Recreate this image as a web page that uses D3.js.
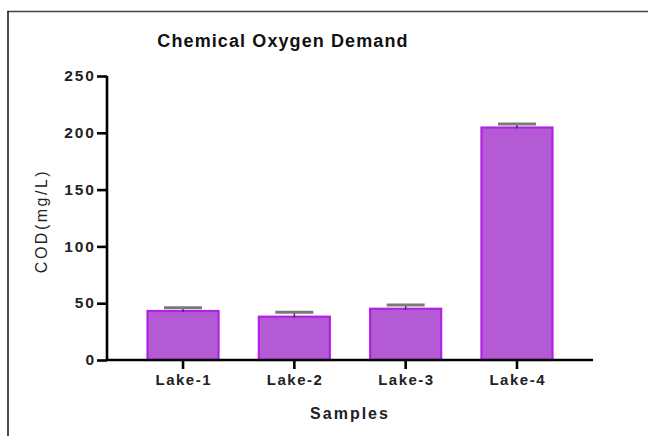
<!DOCTYPE html>
<html><head><meta charset="utf-8">
<script src="https://cdn.jsdelivr.net/npm/d3@7"></script>
<style>body{margin:0;background:#fff}svg{display:block}</style>
</head><body>
<svg id="c" width="648" height="436"></svg>
<script>
const categories = ["Lake-1","Lake-2","Lake-3","Lake-4"];
const values = [44, 39, 46, 205.5];
const errors = [2, 3, 2.4, 2.2];
const yTicks = [0,50,100,150,200,250];

const svg = d3.select("#c");
const font = "'Liberation Sans', Arial, Helvetica, sans-serif";
// frame lines (top and left)
svg.append("line").attr("x1",7.5).attr("x2",648).attr("y1",11.5).attr("y2",11.5).attr("stroke","#444").attr("stroke-width",1.5);
svg.append("line").attr("x1",8).attr("x2",8).attr("y1",11).attr("y2",436).attr("stroke","#111").attr("stroke-width",1.5);

const x = d3.scaleBand().domain(categories).range([107,593]).paddingInner(0.344).paddingOuter(0.355);
const y = d3.scaleLinear().domain([0,250]).range([360,76]);

// bars
svg.selectAll("rect.bar").data(categories).enter().append("rect")
  .attr("x", d=>x(d)+1).attr("width", x.bandwidth()-2)
  .attr("y", (d,i)=>y(values[i])+1).attr("height",(d,i)=>y(0)-y(values[i])-1)
  .attr("fill","#b55ad5").attr("stroke","#b322e2").attr("stroke-width",2.2);

// error bars
const cap = 38;
categories.forEach((d,i)=>{
  const cx = x(d)+x.bandwidth()/2;
  svg.append("line").attr("x1",cx).attr("x2",cx).attr("y1",y(values[i]+errors[i])).attr("y2",y(values[i])+2)
    .attr("stroke","#333").attr("stroke-width",1.5);
  svg.append("line").attr("x1",cx-cap/2).attr("x2",cx+cap/2).attr("y1",y(values[i]+errors[i])).attr("y2",y(values[i]+errors[i]))
    .attr("stroke","#7a7a7a").attr("stroke-width",3);
});

// axes
const yAxis = svg.append("g").attr("transform","translate(107,0)")
  .call(d3.axisLeft(y).tickValues(yTicks).tickSize(10).tickPadding(1));
const xAxis = svg.append("g").attr("transform","translate(0,360)")
  .call(d3.axisBottom(x).tickSize(9).tickPadding(5));
[yAxis,xAxis].forEach(g=>{
  g.select(".domain").attr("stroke","#000").attr("stroke-width",2.6);
  g.selectAll(".tick line").attr("stroke","#000").attr("stroke-width",2.6);
});
yAxis.select(".domain").attr("d","M0,76V360");
xAxis.select(".domain").attr("d","M107,0H593");
yAxis.selectAll(".tick text").attr("font-family",font).attr("font-size",15.5).attr("font-weight","bold").attr("fill","#222").attr("letter-spacing",2).attr("dy","0.3em");
xAxis.selectAll(".tick text").attr("font-family",font).attr("font-size",15).attr("font-weight","bold").attr("fill","#222").attr("letter-spacing",1.5).attr("dx",0.75);

// title
svg.append("text").attr("x",283).attr("y",47).attr("text-anchor","middle")
  .attr("font-family",font).attr("font-size",18).attr("font-weight","bold").attr("fill","#111").attr("letter-spacing",1.1)
  .text("Chemical Oxygen Demand");
// x label
svg.append("text").attr("x",350).attr("y",419).attr("text-anchor","middle")
  .attr("font-family",font).attr("font-size",16).attr("font-weight","bold").attr("fill","#222").attr("letter-spacing",2)
  .text("Samples");
// y label
svg.append("text").attr("transform","translate(47,221) rotate(-90)").attr("text-anchor","middle")
  .attr("font-family",font).attr("font-size",16).attr("fill","#222").attr("letter-spacing",2.5)
  .text("COD(mg/L)");
</script>
</body></html>
